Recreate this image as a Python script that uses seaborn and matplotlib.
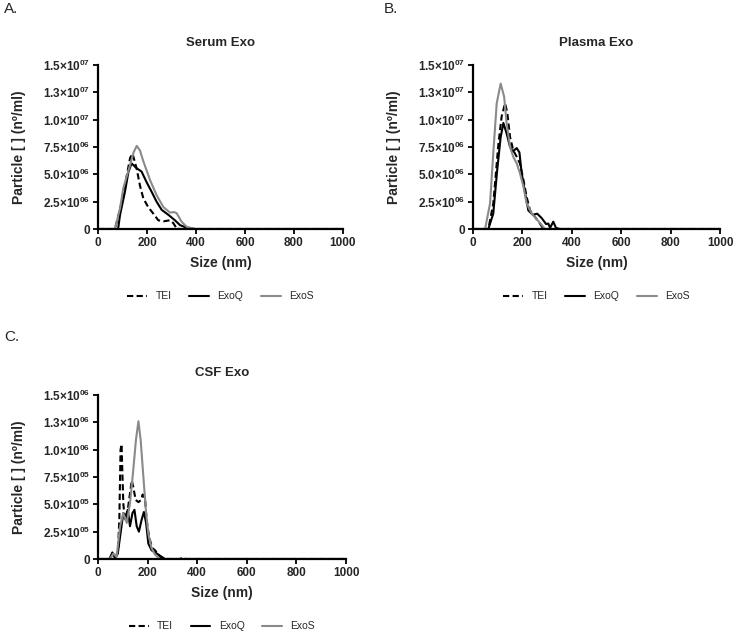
import numpy as np
import pandas as pd
import seaborn as sns
import matplotlib.pyplot as plt

# --- Serum Exo (size nm, particles/ml) ---
serum_tei_x = [0, 69, 90, 110, 131, 141, 158, 171, 185, 205, 226, 246, 267, 294, 307, 321, 335, 1000]
serum_tei_y = [0, 0, 1.8e6, 4.0e6, 6.5e6, 6.9e6, 5.5e6, 4.0e6, 2.8e6, 2.0e6, 1.4e6, 0.8e6, 0.7e6, 0.8e6, 0.55e6, 0.05e6, 0, 0]
serum_exoq_x = [0, 82, 90, 110, 124, 137, 158, 178, 198, 219, 239, 260, 287, 314, 335, 362, 396, 1000]
serum_exoq_y = [0, 0, 1.3e6, 3.4e6, 5.2e6, 6.0e6, 5.55e6, 5.25e6, 4.3e6, 3.4e6, 2.5e6, 1.75e6, 1.3e6, 0.8e6, 0.35e6, 0.12e6, 0, 0]
serum_exos_x = [0, 69, 90, 103, 117, 131, 145, 158, 171, 185, 212, 239, 267, 294, 310, 321, 341, 362, 396, 1000]
serum_exos_y = [0, 0, 1.9e6, 3.7e6, 4.8e6, 5.85e6, 7.0e6, 7.6e6, 7.2e6, 6.2e6, 4.5e6, 3.1e6, 2.0e6, 1.5e6, 1.55e6, 1.45e6, 0.67e6, 0.2e6, 0, 0]

# --- Plasma Exo ---
plasma_tei_x = [0, 62, 82, 103, 116, 130, 139, 150, 163, 177, 190, 204, 217, 231, 251, 271, 285, 1000]
plasma_tei_y = [0, 0, 2.3e6, 7.8e6, 10.3e6, 11.5e6, 10.6e6, 8.4e6, 7.2e6, 6.6e6, 6.0e6, 4.5e6, 2.95e6, 1.7e6, 1.1e6, 0.5e6, 0, 0]
plasma_exoq_x = [0, 62, 82, 98, 112, 123, 136, 150, 161, 177, 188, 197, 211, 224, 242, 260, 278, 296, 305, 312, 325, 336, 352, 1000]
plasma_exoq_y = [0, 0, 1.4e6, 5.4e6, 8.4e6, 9.7e6, 8.75e6, 7.5e6, 7.1e6, 7.4e6, 7.0e6, 5.1e6, 3.3e6, 1.7e6, 1.3e6, 1.4e6, 1.0e6, 0.45e6, 0.5e6, 0.1e6, 0.67e6, 0.1e6, 0, 0]
plasma_exos_x = [0, 49, 69, 82, 96, 112, 126, 136, 150, 163, 177, 190, 204, 217, 238, 258, 278, 291, 1000]
plasma_exos_y = [0, 0, 2.35e6, 6.9e6, 11.5e6, 13.3e6, 12.1e6, 9.7e6, 7.5e6, 6.6e6, 6.0e6, 5.1e6, 3.9e6, 2.35e6, 1.4e6, 0.9e6, 0.37e6, 0, 0]

# --- CSF Exo ---
csf_tei_x = [0, 68, 80, 86, 91, 95, 102, 108, 120, 129, 136, 142, 152, 163, 174, 180, 190, 196, 206, 219, 230, 243, 260, 330, 343, 356, 1000]
csf_tei_y = [0, 0, 0.05e6, 0.36e6, 1.0e6, 1.05e6, 0.51e6, 0.36e6, 0.45e6, 0.6e6, 0.72e6, 0.66e6, 0.54e6, 0.52e6, 0.54e6, 0.59e6, 0.54e6, 0.36e6, 0.2e6, 0.1e6, 0.08e6, 0.04e6, 0, 0, 0.012e6, 0, 0]
csf_exoq_x = [0, 46, 58, 68, 81, 93, 102, 111, 120, 129, 139, 147, 156, 165, 176, 185, 194, 203, 216, 237, 257, 270, 1000]
csf_exoq_y = [0, 0, 0.06e6, 0.01e6, 0.07e6, 0.27e6, 0.42e6, 0.36e6, 0.45e6, 0.3e6, 0.42e6, 0.45e6, 0.3e6, 0.25e6, 0.36e6, 0.43e6, 0.33e6, 0.14e6, 0.08e6, 0.05e6, 0.02e6, 0, 0]
csf_exos_x = [0, 48, 62, 75, 89, 102, 116, 129, 142, 153, 163, 172, 183, 194, 203, 216, 230, 250, 1000]
csf_exos_y = [0, 0, 0.05e6, 0.02e6, 0.3e6, 0.42e6, 0.33e6, 0.51e6, 0.81e6, 1.09e6, 1.26e6, 1.09e6, 0.75e6, 0.42e6, 0.23e6, 0.1e6, 0.04e6, 0, 0]

methods = ["TEI", "ExoQ", "ExoS"]
titles = ["Serum Exo", "Plasma Exo", "CSF Exo"]
panel_letters = ["A.", "B.", "C."]
xticks = [0, 200, 400, 600, 800, 1000]
yticks_big = [0, 2.5e6, 5.0e6, 7.5e6, 1.0e7, 1.25e7, 1.5e7]
ylabels_big = ["0", "2.5", "5.0", "7.5", "1.0", "1.3", "1.5"]
yexp_big = ["", "06", "06", "06", "07", "07", "07"]
yticks_small = [0, 2.5e5, 5.0e5, 7.5e5, 1.0e6, 1.25e6, 1.5e6]
yexp_small = ["", "05", "05", "05", "06", "06", "06"]


def long_df(tei, exoq, exos):
    parts = []
    for name, (x, y) in zip(methods, [tei, exoq, exos]):
        parts.append(pd.DataFrame({"size": x, "conc": y, "method": name}))
    return pd.concat(parts, ignore_index=True)


panels = [
    long_df((serum_tei_x, serum_tei_y), (serum_exoq_x, serum_exoq_y), (serum_exos_x, serum_exos_y)),
    long_df((plasma_tei_x, plasma_tei_y), (plasma_exoq_x, plasma_exoq_y), (plasma_exos_x, plasma_exos_y)),
    long_df((csf_tei_x, csf_tei_y), (csf_exoq_x, csf_exoq_y), (csf_exos_x, csf_exos_y)),
]

sns.set_style("ticks")
plt.rcParams["font.family"] = ["Liberation Sans", "DejaVu Sans"]
plt.rcParams["mathtext.fontset"] = "custom"
plt.rcParams["mathtext.bf"] = "Liberation Sans:bold"
plt.rcParams["mathtext.rm"] = "Liberation Sans"

fig = plt.figure(figsize=(7.34, 6.31), dpi=100)
rects = [
    [98 / 734, 1 - 229 / 631, 245 / 734, 164 / 631],
    [473 / 734, 1 - 229 / 631, 247 / 734, 164 / 631],
    [98 / 734, 1 - 559 / 631, 248 / 734, 164 / 631],
]
letter_pos = [(4 / 734, 1 - 9 / 631), (384 / 734, 1 - 9 / 631), (4 / 734, 1 - 337 / 631)]

palette = {"TEI": "black", "ExoQ": "black", "ExoS": "#8a8a8a"}
dashes = {"TEI": (3, 1.6), "ExoQ": "", "ExoS": ""}

for i, df in enumerate(panels):
    ax = fig.add_axes(rects[i])
    sns.lineplot(data=df, x="size", y="conc", hue="method", style="method",
                 palette=palette, dashes=dashes, hue_order=methods, style_order=methods,
                 linewidth=1.5, ax=ax, sort=False, estimator=None)
    if i < 2:
        yt, ye = yticks_big, yexp_big
    else:
        yt, ye = yticks_small, yexp_small
    labels = []
    for m, e in zip(ylabels_big, ye):
        labels.append(m if e == "" else m + "×10$^{\\mathbf{" + e + "}}$")
    ax.set_xlim(0, 1000)
    ax.set_ylim(0, yt[-1])
    ax.set_xticks(xticks)
    ax.set_xticklabels([str(t) for t in xticks], fontweight="bold", fontsize=8.5)
    ax.set_yticks(yt)
    ax.set_yticklabels(labels, fontweight="bold", fontsize=8.5)
    ax.tick_params(width=1.3, length=3.5, color="black", pad=2)
    for s in ["left", "bottom"]:
        ax.spines[s].set_linewidth(1.6)
        ax.spines[s].set_color("black")
    sns.despine(ax=ax)
    ax.set_title(titles[i], fontweight="bold", fontsize=9.5, pad=14)
    ax.set_xlabel("Size (nm)", fontweight="bold", fontsize=10, labelpad=5)
    ax.set_ylabel("Particle [ ] (nº/ml)", fontweight="bold", fontsize=10, labelpad=12)
    ax.legend(title=None, loc="center", bbox_to_anchor=(0.5, -0.41), ncol=3,
              frameon=False, fontsize=7.5, handlelength=1.9, handletextpad=0.8,
              columnspacing=1.7)
    fig.text(letter_pos[i][0], letter_pos[i][1], panel_letters[i], fontsize=11, va="center")

fig.savefig("out.png", dpi=100)
